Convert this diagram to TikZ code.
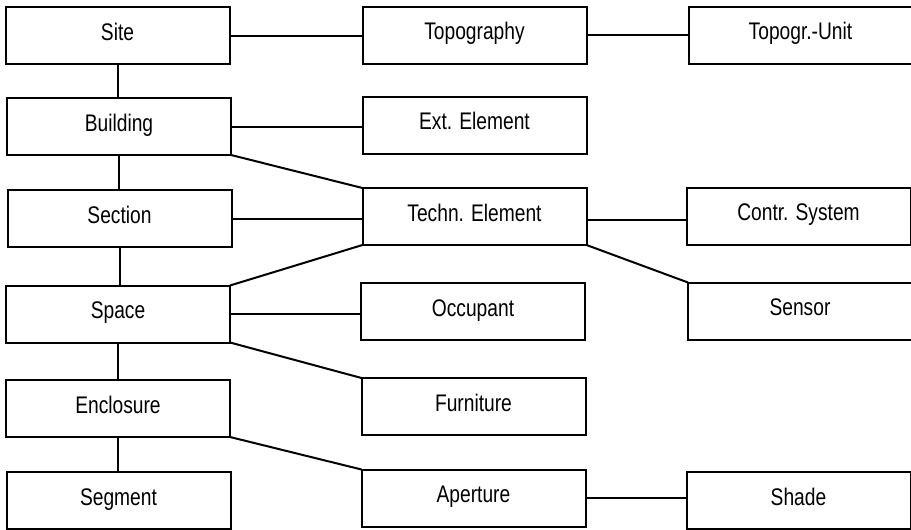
\documentclass[tikz,border=0pt]{standalone}
\usepackage{fontspec}
\setmainfont{Liberation Sans}[FakeStretch=0.8]
\begin{document}
\begin{tikzpicture}[x=1pt,y=-1pt,
  box/.style={draw, line width=2pt, rectangle, minimum width=224pt,
    minimum height=57pt, inner sep=0pt, outer sep=0pt,
    text height=17pt, text depth=8pt,
    font=\fontsize{24}{28}\selectfont},
  link/.style={line width=2pt}]
\useasboundingbox (0,0) rectangle (911,530);

% left column: spatial hierarchy
\node[box] (site)      at (117.5,35.5) {Site};
\node[box] (building)  at (119,126.5)  {Building};
\node[box] (section)   at (119.5,218.5){Section};
\node[box] (space)     at (118,314)    {Space};
\node[box] (enclosure) at (118,408.5)  {Enclosure};
\node[box] (segment)   at (118.5,500.5){Segment};

% middle column
\node[box] (topo)      at (474.5,35)   {Topography};
\node[box] (ext)       at (474.5,125)  {Ext. Element};
\node[box] (techn)     at (474.5,216.5){Techn. Element};
\node[box] (occupant)  at (473,311.5)  {Occupant};
\node[box] (furniture) at (473.5,406.5){Furniture};
\node[box] (aperture)  at (473.5,498)  {Aperture};

% right column
\node[box] (unit)      at (800.5,35)   {Topogr.-Unit};
\node[box] (control)   at (798.5,216)  {Contr. System};
\node[box] (sensor)    at (800,311)    {Sensor};
\node[box] (shade)     at (798.5,500.5){Shade};

% vertical links
\draw[link] (site.south) -- (site.south |- building.north);
\draw[link] (building.south) -- (building.south |- section.north);
\draw[link] (section.south) -- (section.south |- space.north);
\draw[link] (space.south) -- (space.south |- enclosure.north);
\draw[link] (enclosure.south) -- (enclosure.south |- segment.north);

% horizontal links
\draw[link] (site.east) -- (site.east -| topo.west);
\draw[link] (topo.east) -- (topo.east -| unit.west);
\draw[link] (building.east) -- (building.east -| ext.west);
\draw[link] (section.east) -- (section.east -| techn.west);
\draw[link] ([yshift=-3pt]techn.east) -- ([yshift=-3pt]techn.east -| control.west);
\draw[link] (space.east) -- (space.east -| occupant.west);
\draw[link] (aperture.east) -- (aperture.east -| shade.west);

% diagonal links
\draw[link] (building.south east) -- (techn.north west);
\draw[link] (space.north east) -- (techn.south west);
\draw[link] (techn.south east) -- (sensor.north west);
\draw[link] (space.south east) -- (furniture.north west);
\draw[link] (enclosure.south east) -- (aperture.north west);
\end{tikzpicture}
\end{document}
